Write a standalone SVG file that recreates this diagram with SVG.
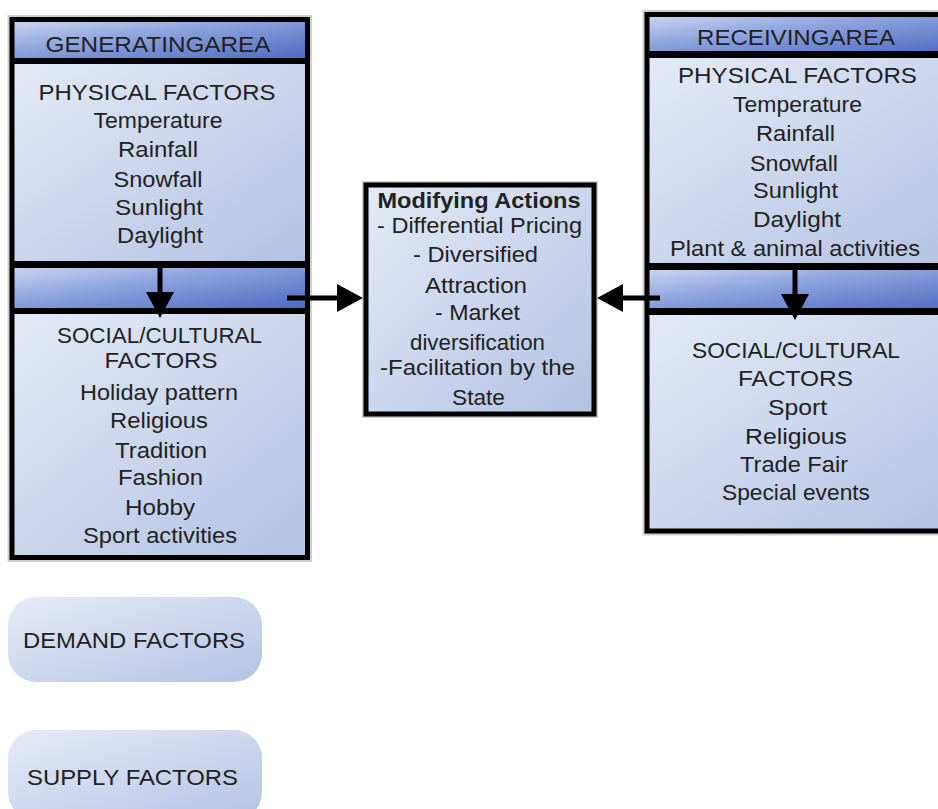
<svg xmlns="http://www.w3.org/2000/svg" width="938" height="809" viewBox="0 0 938 809">
<defs>
<linearGradient id="gContent" x1="0" y1="0" x2="1" y2="1">
<stop offset="0" stop-color="#e4eaf7"/>
<stop offset="1" stop-color="#b3c2e3"/>
</linearGradient>
<linearGradient id="gHead" x1="0" y1="0" x2="1" y2="1">
<stop offset="0" stop-color="#cdd7f1"/>
<stop offset="0.4" stop-color="#8ea4de"/>
<stop offset="1" stop-color="#4a69c0"/>
</linearGradient>
<linearGradient id="gPill" x1="0" y1="0" x2="1" y2="1">
<stop offset="0" stop-color="#e6ebf7"/>
<stop offset="1" stop-color="#b4c3e4"/>
</linearGradient>
<marker id="arrow" markerUnits="userSpaceOnUse" markerWidth="28" markerHeight="30" refX="0" refY="15" orient="auto" overflow="visible">
<path d="M0,1 L26,15 L0,29 Z" fill="#000"/>
</marker>
</defs>
<style>
text{font-family:"Liberation Sans",Arial,sans-serif;font-size:22px;fill:#222;text-anchor:middle}
.b{font-weight:bold}
.frame{fill:none;stroke:#000;stroke-width:5}
.sep{stroke:#000}
.content{fill:url(#gContent)}
.head{fill:url(#gHead)}
.pill{fill:url(#gPill)}
.conn{stroke:#000;stroke-width:5;fill:none;marker-end:url(#arrow)}
</style>
<rect width="938" height="809" fill="#fff"/>

<g id="generating-area">
<rect x="12" y="19.5" width="295.5" height="538" fill="none" stroke="#cfcfcf" stroke-width="9"/>
<rect class="head" x="12" y="20" width="295" height="40"/>
<rect class="content" x="12" y="62" width="295" height="200"/>
<rect class="head" x="12" y="266" width="295" height="44"/>
<rect class="content" x="12" y="312" width="295" height="244"/>
<line class="sep" x1="12" y1="61" x2="307" y2="61" stroke-width="6"/>
<line class="sep" x1="12" y1="264.5" x2="307" y2="264.5" stroke-width="7"/>
<line class="sep" x1="12" y1="311" x2="307" y2="311" stroke-width="6"/>
<rect class="frame" x="12" y="19.5" width="295.5" height="538"/>
<text x="158" y="52" textLength="225" lengthAdjust="spacingAndGlyphs">GENERATINGAREA</text>
<text x="157" y="100" textLength="237" lengthAdjust="spacingAndGlyphs">PHYSICAL FACTORS</text>
<text x="158" y="128" textLength="129" lengthAdjust="spacingAndGlyphs">Temperature</text>
<text x="158" y="157" textLength="80" lengthAdjust="spacingAndGlyphs">Rainfall</text>
<text x="158" y="187" textLength="89" lengthAdjust="spacingAndGlyphs">Snowfall</text>
<text x="159" y="215" textLength="88" lengthAdjust="spacingAndGlyphs">Sunlight</text>
<text x="160" y="243" textLength="86" lengthAdjust="spacingAndGlyphs">Daylight</text>
<text x="159.5" y="343" textLength="205" lengthAdjust="spacingAndGlyphs">SOCIAL/CULTURAL</text>
<text x="161" y="368" textLength="113" lengthAdjust="spacingAndGlyphs">FACTORS</text>
<text x="159" y="400" textLength="158" lengthAdjust="spacingAndGlyphs">Holiday pattern</text>
<text x="159" y="428" textLength="98" lengthAdjust="spacingAndGlyphs">Religious</text>
<text x="161" y="458" textLength="92" lengthAdjust="spacingAndGlyphs">Tradition</text>
<text x="160.5" y="485" textLength="85" lengthAdjust="spacingAndGlyphs">Fashion</text>
<text x="160" y="515" textLength="70" lengthAdjust="spacingAndGlyphs">Hobby</text>
<text x="160" y="543" textLength="154" lengthAdjust="spacingAndGlyphs">Sport activities</text>
</g>

<g id="modifying-actions">
<rect x="366" y="185" width="228" height="229" fill="none" stroke="#cfcfcf" stroke-width="8"/>
<rect class="content" x="366" y="185" width="228" height="229"/>
<rect class="frame" x="366" y="185" width="228" height="229"/>
<text class="b" x="479" y="208" textLength="203" lengthAdjust="spacingAndGlyphs">Modifying Actions</text>
<text x="479.5" y="233" textLength="205" lengthAdjust="spacingAndGlyphs">- Differential Pricing</text>
<text x="475.5" y="262" textLength="125" lengthAdjust="spacingAndGlyphs">- Diversified</text>
<text x="476" y="293" textLength="102" lengthAdjust="spacingAndGlyphs">Attraction</text>
<text x="477.5" y="320" textLength="85" lengthAdjust="spacingAndGlyphs">- Market</text>
<text x="477.5" y="350" textLength="135" lengthAdjust="spacingAndGlyphs">diversification</text>
<text x="477.5" y="375" textLength="195" lengthAdjust="spacingAndGlyphs">-Facilitation by the</text>
<text x="478.5" y="405" textLength="53" lengthAdjust="spacingAndGlyphs">State</text>
</g>

<g id="receiving-area">
<rect x="647" y="14.5" width="320" height="516.5" fill="none" stroke="#cfcfcf" stroke-width="9"/>
<rect class="head" x="647" y="15" width="320" height="38"/>
<rect class="content" x="647" y="56" width="320" height="210"/>
<rect class="head" x="647" y="268" width="320" height="42"/>
<rect class="content" x="647" y="312" width="320" height="218"/>
<line class="sep" x1="647" y1="54.5" x2="967" y2="54.5" stroke-width="7"/>
<line class="sep" x1="647" y1="266.5" x2="967" y2="266.5" stroke-width="7"/>
<line class="sep" x1="647" y1="311.5" x2="967" y2="311.5" stroke-width="7"/>
<rect class="frame" x="647" y="14.5" width="320" height="516.5"/>
<text x="796" y="45" textLength="198" lengthAdjust="spacingAndGlyphs">RECEIVINGAREA</text>
<text x="797.5" y="83" textLength="239" lengthAdjust="spacingAndGlyphs">PHYSICAL FACTORS</text>
<text x="797.5" y="112" textLength="129" lengthAdjust="spacingAndGlyphs">Temperature</text>
<text x="795.5" y="141" textLength="79" lengthAdjust="spacingAndGlyphs">Rainfall</text>
<text x="794" y="171" textLength="88" lengthAdjust="spacingAndGlyphs">Snowfall</text>
<text x="795.5" y="198" textLength="85" lengthAdjust="spacingAndGlyphs">Sunlight</text>
<text x="797" y="227" textLength="88" lengthAdjust="spacingAndGlyphs">Daylight</text>
<text x="795" y="256" textLength="250" lengthAdjust="spacingAndGlyphs">Plant &amp; animal activities</text>
<text x="796" y="358" textLength="208" lengthAdjust="spacingAndGlyphs">SOCIAL/CULTURAL</text>
<text x="795.5" y="386" textLength="115" lengthAdjust="spacingAndGlyphs">FACTORS</text>
<text x="797.5" y="415" textLength="59" lengthAdjust="spacingAndGlyphs">Sport</text>
<text x="796" y="444" textLength="102" lengthAdjust="spacingAndGlyphs">Religious</text>
<text x="794" y="472" textLength="108" lengthAdjust="spacingAndGlyphs">Trade Fair</text>
<text x="796" y="500" textLength="148" lengthAdjust="spacingAndGlyphs">Special events</text>
</g>

<g id="demand-factors">
<rect class="pill" x="8" y="597" width="254" height="85" rx="28"/>
<text x="134" y="648" textLength="222" lengthAdjust="spacingAndGlyphs">DEMAND FACTORS</text>
</g>

<g id="supply-factors">
<rect class="pill" x="8" y="730" width="254" height="90" rx="28"/>
<text x="132.5" y="785" textLength="211" lengthAdjust="spacingAndGlyphs">SUPPLY FACTORS</text>
</g>

<g id="connectors">
<line class="conn" x1="160" y1="266" x2="160" y2="292"/>
<line class="conn" x1="795" y1="268" x2="795" y2="294"/>
<line class="conn" x1="287" y1="298" x2="337" y2="298"/>
<line class="conn" x1="660" y1="298" x2="623" y2="298"/>
</g>
</svg>
